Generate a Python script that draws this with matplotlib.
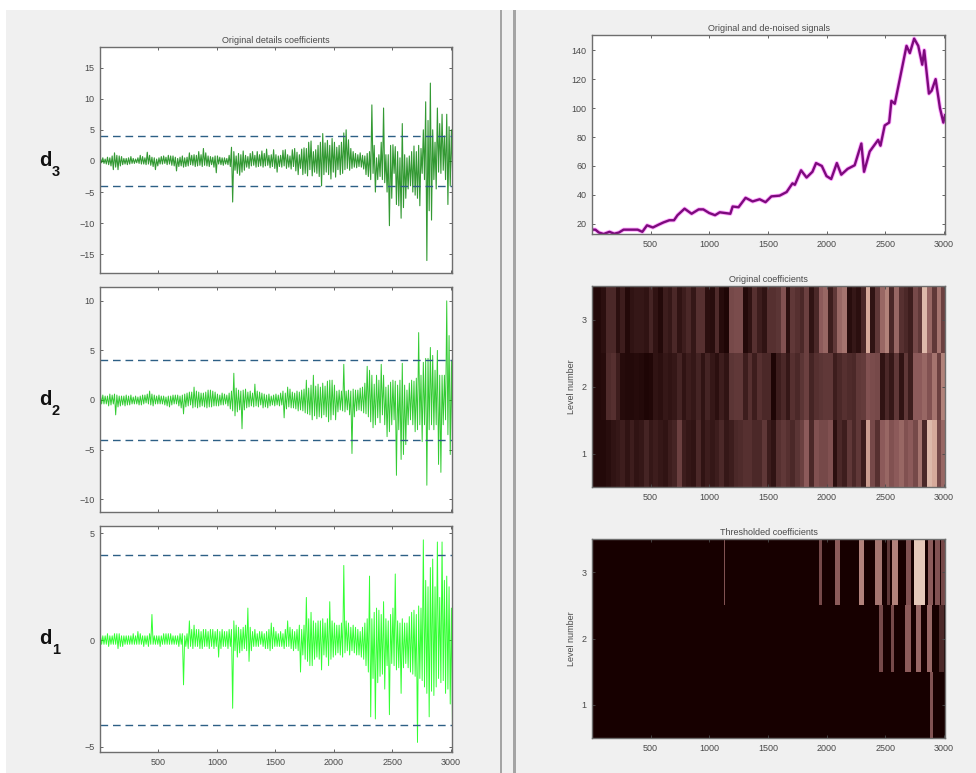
import numpy as np
import matplotlib
matplotlib.use('Agg')
import matplotlib.pyplot as plt
from matplotlib.colors import LinearSegmentedColormap
from matplotlib.patches import Rectangle

plt.rcParams['font.family'] = ['Liberation Sans', 'DejaVu Sans']

# detail coefficients, peak up / peak down in each 20 sample bin
d3_upper = [.4,.5,.3,.6,.5,.8,1.3,.9,.8,.7,
            .4,.4,.5,.7,.4,.3,.5,.9,.7,.5,
            1.4,.9,.6,.5,.3,.5,.7,.8,.6,.9,
            .8,.8,.6,.4,.6,.8,.5,.6,1.3,.9,
            1.0,.9,1.5,1.0,2.0,1.3,.8,.7,.6,.8,
            .8,.6,.5,.5,.4,.9,2.2,1.5,.8,1.2,
            1.0,1.6,.9,.7,1.2,1.5,.9,1.5,1.0,1.6,
            1.2,1.9,.9,1.0,1.8,1.0,.8,.9,1.7,1.8,
            1.0,.8,1.8,2.0,1.4,1.0,1.9,2.1,2.0,3.0,
            3.2,1.5,1.8,2.5,3.0,4.4,2.9,3.3,2.5,3.6,
            3.0,2.2,2.5,3.0,4.5,5.0,3.4,2.0,1.5,1.2,
            1.0,1.3,.9,.8,1.2,1.5,9.0,2.5,.5,1.0,
            3.0,8.5,1.0,1.0,2.5,2.6,2.3,1.5,.5,6.0,
            1.0,.5,.8,1.5,2.4,1.5,2.5,2.0,5.0,9.5,
            6.5,12.5,5.0,3.0,8.5,6.0,7.5,4.0,7.5,5.5,5.0]
d3_lower = [-.3,-.4,-.5,-.6,-.8,-1.4,-1.0,-1.4,-.8,-.6,
            -.5,-.6,-.5,-.4,-.4,-.3,-.4,-.5,-.5,-.6,
            -.5,-.7,-.9,-1.4,-.8,-.5,-.5,-.4,-.6,-.5,
            -.7,-.8,-1.6,-.9,-.8,-1.0,-.9,-.8,-.6,-.7,
            -.9,-.8,-.7,-.9,-.7,-.8,-.9,-.6,-1.0,-1.9,
            -.5,-.6,-.7,-.5,-.6,-.9,-6.6,-1.5,-2.0,-2.3,
            -1.8,-1.5,-1.0,-1.2,-.8,-.7,-1.0,-.9,-.8,-1.0,
            -.8,-.7,-1.1,-.9,-1.2,-1.8,-.9,-1.0,-.8,-1.2,
            -1.0,-1.3,-.9,-1.6,-2.2,-1.2,-2.2,-2.0,-2.4,-1.4,
            -2.4,-1.8,-2.0,-2.5,-4.0,-2.2,-1.8,-2.2,-2.9,-1.8,
            -2.6,-1.4,-2.2,-2.0,-1.4,-1.2,-1.5,-1.2,-1.0,-1.1,
            -.9,-1.0,-1.3,-2.2,-2.5,-3.0,-2.0,-5.0,-3.0,-2.5,
            -3.0,-3.5,-5.0,-10.4,-6.0,-2.0,-7.0,-7.2,-9.2,-7.5,
            -6.0,-4.5,-4.0,-5.0,-5.5,-6.0,-7.2,-2.0,-3.0,-16.0,
            -8.0,-9.5,-3.0,-4.5,-1.8,-2.0,-1.5,-3.0,-7.0,-4.0,-2.0]

d2_upper = [.5,.5,.4,.4,.6,.5,.6,.5,.4,.4,
            .4,.5,.4,.5,.3,.4,.3,.4,.5,.5,
            .6,.9,.6,.5,.4,.5,.4,.4,.3,.4,
            .4,.5,.5,.5,.4,.5,.6,.7,.8,.8,
            1.3,.9,.8,.7,.7,.8,1.0,1.0,.9,.8,
            .6,.5,.7,.6,.5,.7,.9,2.7,1.2,1.0,
            .9,1.0,1.1,.8,.9,.7,1.6,.9,.8,.7,
            .6,.5,.6,.4,.5,.6,.5,.7,.9,.7,
            1.3,1.1,.8,.7,.9,.8,1.0,1.1,2.0,1.2,
            1.5,2.5,1.4,1.6,1.3,1.7,1.4,1.9,2.0,2.0,
            1.5,.9,1.0,.9,3.6,.9,1.0,.9,1.1,1.0,
            1.0,1.2,1.3,1.7,3.4,3.0,2.5,1.6,2.5,2.0,
            3.6,2.5,1.3,1.5,1.8,2.0,1.9,1.5,2.0,3.7,
            1.5,1.0,1.7,2.0,1.9,2.2,6.8,2.5,3.8,4.2,
            4.2,5.3,4.5,3.0,5.0,2.5,2.5,2.5,10.0,6.5,4.0]
d2_lower = [-.4,-.4,-.4,-.6,-.5,-.4,-1.5,-.7,-.6,-.5,
            -.6,-.5,-.5,-.4,-.4,-.4,-.5,-.5,-.4,-.3,
            -.4,-.5,-.6,-.4,-.4,-.4,-.4,-.5,-.6,-.7,
            -.5,-.4,-.4,-.6,-.8,-1.4,-.7,-.6,-.5,-.8,
            -.7,-.8,-.7,-.6,-.7,-.8,-.7,-.7,-.6,-.6,
            -.6,-.5,-.5,-.4,-.6,-.9,-1.1,-1.6,-1.2,-1.0,
            -2.9,-1.0,-.8,-.7,-.6,-.7,-.6,-.7,-.5,-.8,
            -.7,-.8,-.6,-.5,-.6,-.5,-.6,-.5,-1.8,-.9,
            -.7,-.8,-.8,-.9,-1.1,-1.0,-1.1,-1.3,-1.4,-1.5,
            -2.0,-1.6,-1.9,-1.7,-1.8,-1.5,-1.7,-2.2,-2.0,-1.5,
            -2.0,-1.2,-1.0,-1.1,-1.2,-1.0,-1.5,-5.4,-1.7,-1.1,
            -1.0,-1.1,-1.3,-1.4,-1.7,-2.2,-2.8,-2.5,-1.8,-2.3,
            -1.5,-2.5,-3.7,-3.2,-2.5,-2.0,-7.6,-3.0,-6.0,-5.5,
            -4.5,-2.5,-2.0,-2.5,-3.2,-3.0,-2.5,-4.2,-2.5,-8.6,
            -3.0,-2.5,-3.0,-2.5,-6.5,-7.3,-2.5,-2.0,-3.5,-5.5,-5.2]

d1_upper = [.2,.2,.2,.3,.2,.2,.3,.3,.3,.2,
            .2,.2,.2,.2,.3,.2,.4,.3,.2,.2,
            .2,.3,1.2,.2,.2,.2,.2,.3,.3,.3,
            .3,.2,.2,.2,.3,.3,.2,.3,.9,.5,
            .7,.5,.5,.4,.5,.5,.4,.5,.5,.4,
            .5,.4,.5,.4,.4,.5,.5,.9,.7,.6,
            .5,.6,.7,1.5,.6,.4,.5,.3,.4,.4,
            .3,.4,.5,.8,.6,.4,.3,.4,.3,.5,
            .9,.6,.5,.4,.5,.7,.5,.7,2.0,1.0,
            1.3,.9,.8,.9,.9,1.0,.8,1.0,1.8,.9,
            .8,.7,.7,.8,3.5,.9,.8,.6,.7,.6,
            .5,.4,.6,.8,1.0,3.0,1.0,1.3,1.5,1.4,
            1.2,1.8,1.0,.9,1.2,1.5,3.1,.9,.8,1.0,
            .8,.8,1.1,1.3,1.4,1.2,1.6,1.5,4.7,2.8,
            2.5,3.4,3.8,2.5,4.6,2.0,4.6,2.8,3.0,2.5,1.5]
d1_lower = [-.2,-.2,-.2,-.3,-.2,-.2,-.2,-.4,-.3,-.3,
            -.2,-.2,-.2,-.2,-.2,-.2,-.2,-.2,-.3,-.2,
            -.3,-.2,-.2,-.2,-.2,-.3,-.2,-.2,-.2,-.2,
            -.2,-.2,-.2,-.3,-.2,-2.1,-.3,-.4,-.3,-.4,
            -.3,-.3,-.4,-.4,-.3,-.3,-.4,-.3,-.4,-.3,
            -.8,-.4,-.3,-.3,-.4,-.3,-3.2,-.5,-.8,-.6,
            -.5,-.4,-.5,-1.0,-.5,-.3,-.3,-.3,-.2,-.3,
            -.4,-.4,-.5,-.4,-.3,-.3,-.3,-.3,-.4,-.3,
            -.3,-.4,-.5,-.4,-.5,-1.5,-.7,-.9,-1.0,-1.2,
            -1.2,-.9,-.8,-.9,-1.4,-.7,-.8,-1.2,-.9,-.8,
            -.7,-.6,-.7,-.8,-.6,-.5,-.7,-.5,-.6,-.7,
            -.7,-.8,-.9,-1.2,-1.5,-3.6,-1.8,-3.7,-2.0,-1.7,
            -1.6,-2.3,-1.2,-3.5,-1.1,-1.2,-1.4,-1.3,-2.5,-1.3,
            -1.1,-1.3,-1.5,-1.6,-1.7,-4.8,-1.8,-1.9,-2.2,-2.5,
            -3.6,-2.4,-2.6,-2.2,-1.8,-2.0,-1.9,-2.5,-2.3,-3.0,-4.6]

threshold = 4

# signal
signal_x = [1,30,60,100,150,190,230,270,330,390,
            430,470,520,570,610,660,700,730,790,850,
            910,950,1000,1050,1090,1180,1200,1250,1310,1370,
            1430,1480,1530,1600,1660,1710,1730,1783,1830,1880,
            1911,1960,2000,2040,2088,2126,2180,2240,2297,2320,
            2368,2440,2460,2496,2534,2553,2582,2682,2710,2747,
            2782,2816,2833,2873,2896,2930,2967,2996,3010]
signal_y = [16,16,14,13,14.5,13.2,14,16,16,16,
            14.5,19,17.5,19.5,21,22.5,22.5,26,30.5,27,
            30,30,27.5,26,28,27,32,31.5,38,35.5,
            37,35,39,39.5,42,48,47,57,52,56,
            62,60,53,51,62,54,58,60.5,75.5,56,
            70,78,74,88,90,105,103,143,138,148,
            143,130,140,110,112,120,100,90,95]

# coefficient image, 40 sample cells, levels 1 to 3
level1 = [.05,.05,.05,.07,.1,.12,.15,.1,.15,.1,.12,.18,.12,.15,.12,.1,.15,.18,.35,.15,
          .12,.1,.2,.1,.15,.12,.15,.2,.12,.15,.2,.22,.25,.25,.2,.2,.3,.15,
          .1,.25,.3,.25,.2,.28,.35,.5,.2,.45,.4,.4,.45,.08,.2,.15,.3,.2,.3,.15,
          .75,.4,.25,.5,.55,.45,.5,.55,.45,.5,.4,.6,.2,.85,.8,.4,.55]
level2 = [.05,.05,.06,.22,.25,.15,.06,.05,.05,.06,.05,.03,.04,.1,.08,.12,.1,.12,.18,.1,
          .15,.12,.18,.1,.18,.12,.08,.15,.1,.28,.3,.3,.15,.25,.15,.25,.2,.2,
          .03,.15,.2,.12,.25,.2,.28,.35,.18,.25,.28,.3,.3,.15,.2,.25,.22,.2,.3,.32,
          .45,.42,.4,.1,.2,.12,.3,.1,.3,.15,.5,.5,.55,.45,.6,.35,.65]
level3 = [.05,.05,.08,.2,.2,.08,.15,.05,.1,.12,.12,.1,.18,.1,.05,.15,.12,.2,.1,.15,
          .2,.12,.25,.25,.08,.07,.22,.06,.03,.4,.42,.42,.05,.1,.25,.15,.1,.25,
          .25,.28,.45,.08,.3,.25,.2,.35,.1,.2,.5,.55,.15,.3,.55,.6,.07,.12,.08,.2,
          .8,.1,.3,.55,.65,.2,.55,.25,.2,.15,.4,.3,.85,.55,.3,.6,.35]

# coefficients left after thresholding: centre, width, value
th3_x = [1131,1950,2095,2300,2441,2530,2583,2697,2796,2887,2944,2995]
th3_w = [15,28,37,40,57,23,51,42,94,37,42,34]
th3_v = [.45,.4,.5,.65,.6,.3,.65,.45,.9,.5,.45,.4]
th2_x = [2464,2563,2697,2782,2876,2981]
th2_w = [28,23,51,40,45,40]
th2_v = [.4,.4,.5,.55,.55,.2]
th1_x = [2896]
th1_w = [28]
th1_v = [.45]

x_ticks = [500, 1000, 1500, 2000, 2500, 3000]
level_ticks = [1, 2, 3]

W, H = 976, 773
XLIM = (1, 3010)
BG = '#f0f0f0'
TXT = '#4a4a4a'
EDGE = '#6e6e6e'

cmap = LinearSegmentedColormap.from_list('coef', [(0, '#170000'), (.2, '#4b2828'),
                                                  (.5, '#8c5a5a'), (.8, '#d7aa9b'),
                                                  (1, '#f5e6d7')])

fig = plt.figure(figsize=(W / 100, H / 100), dpi=100, facecolor='white')
fig.patches.append(Rectangle((6 / W, 0), 970 / W, 1 - 10 / H, transform=fig.transFigure,
                             facecolor=BG, edgecolor='none', zorder=-5))
for px in (501, 514):
    fig.patches.append(Rectangle(((px - 1.5) / W, 0), 3 / W, 1 - 10 / H, transform=fig.transFigure,
                                 facecolor='#a4a4a4', edgecolor='none', zorder=-4))


def make_axes(left, top, right, bottom):
    ax = fig.add_axes([left / W, 1 - bottom / H, (right - left) / W, (bottom - top) / H])
    ax.set_xlim(*XLIM)
    ax.set_xticks(x_ticks)
    ax.tick_params(direction='in', length=2.5, width=.6, labelsize=6.5, colors=TXT,
                   top=True, right=True, pad=4)
    for s in ax.spines.values():
        s.set_color(EDGE)
        s.set_linewidth(1)
    return ax


def detail_panel(top, bottom, upper, lower, color, ylim, yticks, lw):
    ax = make_axes(100, top, 452, bottom)
    x = []
    y = []
    for i in range(len(upper)):
        x += [i * 20 + 5, i * 20 + 15]
        y += [upper[i], lower[i]]
    ax.plot(x, y, color=color, lw=lw, alpha=.8)
    ax.set_ylim(*ylim)
    ax.set_yticks(yticks)
    ax.set_xticklabels([])
    for t in (threshold, -threshold):
        ax.axhline(t, color='#2d5f85', lw=1, dashes=(5.5, 3.5))
    return ax


def level_label(n, y):
    fig.text(39 / W, 1 - y / H, 'd', fontsize=14.5, fontweight='bold', color='#111111',
             va='baseline', ha='left')
    fig.text(52 / W, 1 - (y + 10) / H, n, fontsize=10.5, fontweight='bold', color='#111111',
             va='baseline', ha='left')


ax3 = detail_panel(47, 273, d3_upper, d3_lower, '#008000', (-18, 18.3),
                   [-15, -10, -5, 0, 5, 10, 15], .8)
ax3.set_title('Original details coefficients', fontsize=6.5, color=TXT, pad=3)
ax2 = detail_panel(287, 512, d2_upper, d2_lower, '#00bf00', (-11.3, 11.4),
                   [-10, -5, 0, 5, 10], .7)
ax1 = detail_panel(526, 752, d1_upper, d1_lower, '#00ff00', (-5.25, 5.35), [-5, 0, 5], .7)
ax1.set_xticklabels([str(t) for t in x_ticks])
level_label('3', 166)
level_label('2', 405)
level_label('1', 644)

ax_sig = make_axes(592, 35, 945, 234)
ax_sig.plot(signal_x, signal_y, color='#ff40ff', lw=3, alpha=.45)
ax_sig.plot(signal_x, signal_y, color='#7d0a7d', lw=1.7)
ax_sig.set_ylim(13, 150.5)
ax_sig.set_yticks([20, 40, 60, 80, 100, 120, 140])
ax_sig.set_xticklabels([str(t) for t in x_ticks])
ax_sig.set_title('Original and de-noised signals', fontsize=6.5, color=TXT, pad=3)

ax_org = make_axes(592, 286, 945, 487)
ax_org.imshow(np.array([level1, level2, level3]), cmap=cmap, vmin=0, vmax=1, aspect='auto',
              origin='lower', extent=(XLIM[0], XLIM[1], .5, 3.5), interpolation='nearest')
ax_org.set_yticks(level_ticks)
ax_org.set_xticklabels([str(t) for t in x_ticks])
ax_org.set_ylabel('Level number', fontsize=6.5, color=TXT, labelpad=4)
ax_org.set_title('Original coefficients', fontsize=6.5, color=TXT, pad=3)

ax_th = make_axes(592, 539, 945, 738)
ax_th.set_facecolor(cmap(0.0))
for lev, xs, ws, vs in ((3, th3_x, th3_w, th3_v), (2, th2_x, th2_w, th2_v), (1, th1_x, th1_w, th1_v)):
    ax_th.bar(xs, 1, width=ws, bottom=lev - .5, color=[cmap(v) for v in vs], linewidth=0)
ax_th.set_xlim(*XLIM)
ax_th.set_ylim(.5, 3.5)
ax_th.set_yticks(level_ticks)
ax_th.set_xticklabels([str(t) for t in x_ticks])
ax_th.set_ylabel('Level number', fontsize=6.5, color=TXT, labelpad=4)
ax_th.set_title('Thresholded coefficients', fontsize=6.5, color=TXT, pad=3)

fig.savefig('out.png', dpi=100, facecolor=fig.get_facecolor())
